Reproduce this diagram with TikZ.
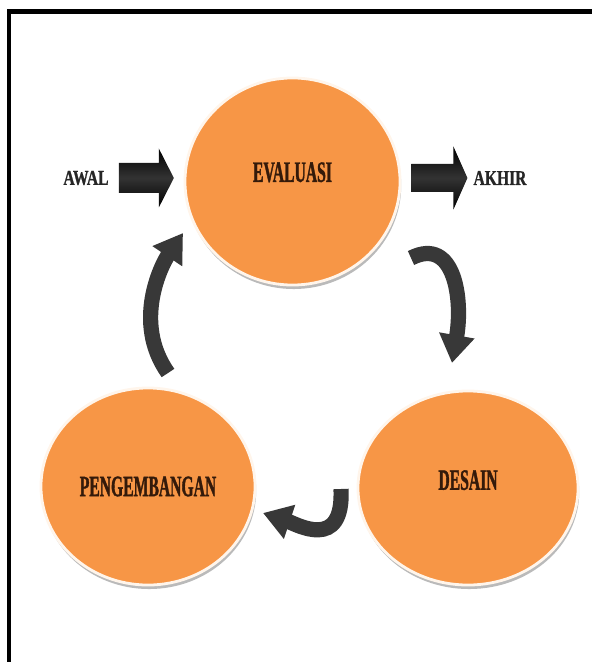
\documentclass[tikz,border=0pt]{standalone}
\usepackage{fontspec}
\setmainfont{Liberation Serif}
\newfontfamily\stagefont[FakeStretch=0.53,BoldFeatures={FakeBold=1.2}]{Liberation Serif}
\newfontfamily\endfont[FakeStretch=0.74,BoldFeatures={FakeBold=1}]{Liberation Serif}
\usetikzlibrary{positioning,arrows.meta,shapes.geometric,shadows,calc}
\definecolor{stageorange}{RGB}{247,150,70}
\definecolor{stagetext}{RGB}{52,26,10}

\begin{document}
\begin{tikzpicture}[
  x=0.025cm,y=-0.025cm,
  stage/.style={ellipse,fill=stageorange,draw=orange!8!white,line width=0.07cm,inner sep=0pt,
    font=\stagefont\bfseries\fontsize{21}{21}\selectfont,text=stagetext,
    drop shadow={shadow xshift=0.03cm,shadow yshift=-0.1cm,fill=black!45,opacity=0.6}},
  ends/.style={font=\endfont\bfseries\fontsize{15}{15}\selectfont,text=black!85,inner sep=0pt},
  blockshade/.style={top color=black,bottom color=black,middle color=black!80},
  curvearrow/.style={line width=0.38cm,draw=black!78,-{Triangle[width=0.85cm,length=0.7cm]}},
  edgeline/.style={line width=0.11cm},
]
\useasboundingbox (0,0) rectangle (592,662);
% frame, top and left only
\draw[edgeline] (9,662) -- (9,11.7) -- (592,11.7);
% the three stages
\node[stage,minimum width=5.375cm,minimum height=5.175cm,text depth=0.47cm] (eval) at (292.5,181.5) {EVALUASI};
\node[stage,minimum width=5.35cm,minimum height=4.925cm] (dev) at (148,486.5) {PENGEMBANGAN};
\node[stage,minimum width=5.5cm,minimum height=4.85cm,text depth=0.4cm] (design) at (468,488) {DESAIN};
% start and end
\node[ends] (awal)  at (86,178)  {AWAL};
\node[ends] (akhir) at (500,178) {AKHIR};
% ---- block arrows ----
\shade[blockshade] ($(awal.east)+(10,-15)$) -- ++(40,0) -- ++(0,-14.5) -- ++(15,29.5)
  -- ++(-15,29.5) -- ++(0,-14.5) -- ++(-40,0) -- cycle;
\shade[blockshade] ($(eval.east |- akhir.west)+(10,-14)$) -- ++(42,0) -- ++(0,-17.5) -- ++(14,31.5)
  -- ++(-14,31.5) -- ++(0,-17.5) -- ++(-42,0) -- cycle;
% ---- curved arrows round the cycle ----
\coordinate (evout)  at (411,258);
\coordinate (dein)   at (452,363);
\coordinate (deout)  at (341,489);
\coordinate (devin)  at (263,513);
\coordinate (devout) at (168,373);
\coordinate (evin)   at (183,233);
\draw[curvearrow] (evout) .. controls (455,236) and (463,300) .. (dein);
\draw[curvearrow] (deout) .. controls (344,552) and (296,524) .. (devin);
\draw[curvearrow] (devout) .. controls (132,322) and (162,264) .. (evin);
\end{tikzpicture}
\end{document}
